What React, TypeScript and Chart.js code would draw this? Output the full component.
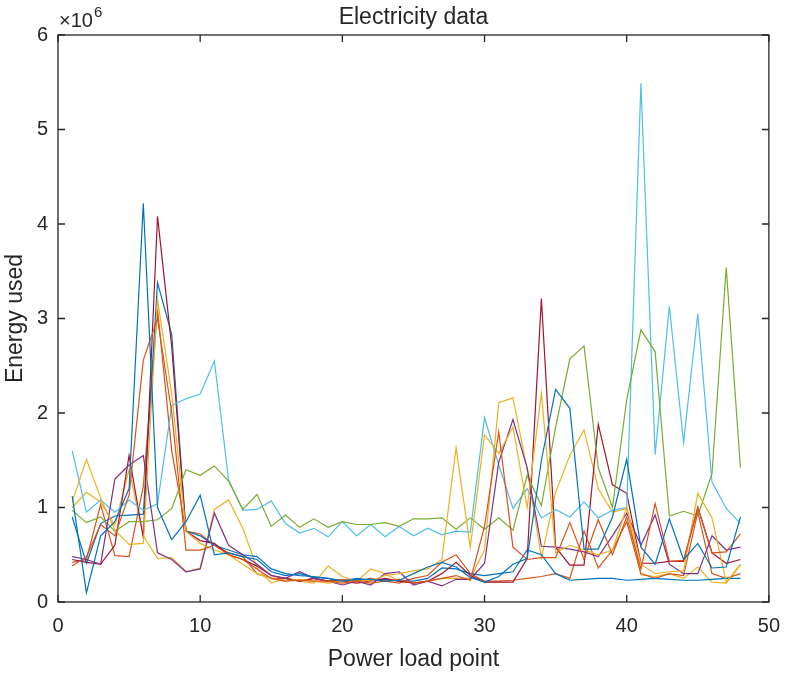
import React, { useEffect, useRef } from 'react';
import { Chart, registerables } from 'chart.js';

Chart.register(...registerables);

// Power load points (x positions)
const loadPoints = [1,2,3,4,5,6,7,8,9,10,11,12,13,14,15,16,17,18,19,20,21,22,23,24,25,26,27,28,29,30,31,32,33,34,35,36,37,38,39,40,41,42,43,44,45,46,47,48];

// Energy used, in units of 10^6
const seriesBlueA = [1.12,0.1,0.7,0.85,1.2,4.22,1.0,0.66,0.85,1.13,0.5,0.52,0.48,0.45,0.32,0.28,0.3,0.26,0.25,0.22,0.24,0.24,0.22,0.23,0.3,0.37,0.42,0.37,0.26,0.21,0.27,0.4,0.46,1.5,2.25,2.05,0.56,0.56,0.9,1.51,0.58,0.4,0.88,0.45,0.62,0.36,0.37,0.9];
const seriesOrangeA = [0.38,0.48,0.82,0.7,1.13,2.56,3.0,2.0,0.55,0.55,0.6,0.5,0.45,0.35,0.25,0.22,0.23,0.22,0.22,0.2,0.22,0.2,0.22,0.24,0.2,0.22,0.25,0.28,0.23,0.8,1.8,0.58,0.45,0.47,0.47,0.84,0.45,0.87,0.5,0.9,0.35,1.04,0.43,0.44,1.0,0.52,0.53,0.72];
const seriesYellowA = [1.06,1.51,1.1,0.76,0.61,0.62,3.2,2.2,0.75,0.62,0.55,0.5,0.4,0.3,0.25,0.22,0.24,0.22,0.2,0.22,0.24,0.22,0.28,0.3,0.33,0.35,0.45,1.63,0.58,1.77,1.57,1.85,1.0,2.21,0.52,0.6,0.55,0.5,0.55,1.0,0.4,0.3,0.32,0.33,1.15,0.89,0.21,0.4];
const seriesPurple = [0.48,0.45,0.4,1.3,1.45,1.55,0.52,0.45,0.32,0.35,0.94,0.6,0.5,0.4,0.28,0.25,0.32,0.25,0.22,0.18,0.22,0.18,0.3,0.32,0.18,0.22,0.17,0.24,0.24,0.41,1.48,1.93,1.42,0.59,0.58,0.56,0.53,0.48,0.7,0.94,0.6,0.92,0.4,0.3,0.3,0.7,0.55,0.58];
const seriesGreen = [0.97,0.84,0.9,0.75,0.85,0.85,0.87,0.99,1.4,1.34,1.44,1.28,0.98,1.14,0.8,0.92,0.79,0.88,0.79,0.85,0.82,0.82,0.84,0.8,0.88,0.88,0.89,0.77,0.89,0.77,0.89,0.76,1.34,1.02,1.85,2.57,2.71,1.42,1.0,2.14,2.88,2.65,0.91,0.96,0.91,1.36,3.54,1.42];
const seriesLightBlue = [1.6,0.95,1.08,0.95,1.08,0.97,1.04,2.08,2.15,2.2,2.55,1.29,0.97,0.98,1.07,0.83,0.73,0.78,0.69,0.85,0.7,0.82,0.69,0.8,0.7,0.78,0.71,0.75,0.74,1.95,1.45,0.99,1.2,0.89,0.98,0.9,1.06,0.89,0.97,1.0,5.49,1.56,3.13,1.69,3.05,1.27,0.99,0.83];
const seriesDarkRed = [0.45,0.42,0.4,0.6,1.55,0.68,4.08,2.7,0.75,0.65,0.62,0.5,0.45,0.38,0.28,0.25,0.22,0.25,0.22,0.22,0.2,0.22,0.25,0.22,0.2,0.22,0.3,0.42,0.28,0.21,0.21,0.21,0.46,3.21,0.58,0.39,0.39,1.88,1.24,1.15,0.41,0.41,0.43,0.43,1.0,0.52,0.41,0.45];
const seriesBlueB = [0.9,0.41,0.83,0.91,0.92,0.93,3.38,2.83,0.75,0.7,0.6,0.55,0.5,0.48,0.35,0.3,0.28,0.27,0.25,0.22,0.25,0.23,0.24,0.22,0.22,0.25,0.36,0.35,0.3,0.28,0.3,0.32,0.55,0.5,0.3,0.23,0.24,0.25,0.25,0.23,0.24,0.25,0.24,0.23,0.23,0.24,0.25,0.25];
const seriesOrangeB = [0.42,0.45,1.03,0.49,0.48,1.22,3.1,1.6,0.75,0.72,0.6,0.52,0.48,0.3,0.25,0.25,0.22,0.25,0.22,0.24,0.22,0.25,0.22,0.2,0.25,0.28,0.42,0.5,0.3,0.22,0.22,0.23,0.25,0.27,0.3,0.25,0.75,0.36,0.55,0.85,0.3,0.25,0.3,0.28,0.95,0.3,0.25,0.3];
const seriesYellowB = [1.0,1.16,1.06,0.81,1.4,0.7,0.46,0.47,0.32,0.36,0.98,1.08,0.78,0.36,0.2,0.25,0.22,0.2,0.38,0.27,0.22,0.35,0.3,0.22,0.2,0.22,0.25,0.25,0.25,0.55,2.11,2.16,1.4,0.47,1.16,1.55,1.82,1.2,0.95,0.99,0.29,0.27,0.3,0.25,0.37,0.21,0.2,0.39];

const seriesList = [seriesBlueA, seriesOrangeA, seriesYellowA, seriesPurple, seriesGreen, seriesLightBlue, seriesDarkRed, seriesBlueB, seriesOrangeB, seriesYellowB];
const seriesColors = ['#0072BD', '#D95319', '#EDB120', '#7E2F8E', '#77AC30', '#4DBEEE', '#A2142F', '#0072BD', '#D95319', '#EDB120'];

const xTicks = [0, 10, 20, 30, 40, 50];
const yTicks = [0, 1, 2, 3, 4, 5, 6];

const FONT = '"Liberation Sans", Arial, Helvetica, sans-serif';
const AXIS_COLOR = '#262626';

const framePlugin = {
  id: 'matlabFrame',
  afterDraw(chart: any) {
    const { ctx, chartArea } = chart;
    const { left, right, top, bottom } = chartArea;
    const xs = chart.scales.x;
    const ys = chart.scales.y;
    ctx.save();
    ctx.strokeStyle = AXIS_COLOR;
    ctx.lineWidth = 1.3;
    ctx.strokeRect(left, top, right - left, bottom - top);
    const tl = 7;
    ctx.beginPath();
    xTicks.forEach((v) => {
      const px = xs.getPixelForValue(v);
      ctx.moveTo(px, bottom);
      ctx.lineTo(px, bottom - tl);
      ctx.moveTo(px, top);
      ctx.lineTo(px, top + tl);
    });
    yTicks.forEach((v) => {
      const py = ys.getPixelForValue(v);
      ctx.moveTo(left, py);
      ctx.lineTo(left + tl, py);
      ctx.moveTo(right, py);
      ctx.lineTo(right - tl, py);
    });
    ctx.stroke();

    ctx.fillStyle = AXIS_COLOR;
    const cx = (left + right) / 2;
    // Title
    ctx.font = `23px ${FONT}`;
    ctx.textAlign = 'center';
    ctx.textBaseline = 'alphabetic';
    ctx.fillText('Electricity data', cx, 24);
    // X label
    ctx.font = `23px ${FONT}`;
    ctx.textBaseline = 'middle';
    ctx.fillText('Power load point', cx, 660);
    // Y label
    ctx.save();
    ctx.translate(16, (top + bottom) / 2);
    ctx.rotate(-Math.PI / 2);
    ctx.fillText('Energy used', 0, 0);
    ctx.restore();
    // Exponent
    ctx.textAlign = 'left';
    ctx.textBaseline = 'alphabetic';
    ctx.font = `20px ${FONT}`;
    ctx.fillText('\u00d710', 59, 27);
    const w = ctx.measureText('\u00d710').width;
    ctx.font = `15px ${FONT}`;
    ctx.fillText('6', 59 + w + 1, 17);
    ctx.restore();
  },
};

export default function App() {
  const canvasRef = useRef<HTMLCanvasElement | null>(null);

  useEffect(() => {
    document.body.style.margin = '0';
    const canvas = canvasRef.current;
    if (!canvas) return;
    const datasets = seriesList.map((vals, i) => ({
      data: loadPoints.map((x, j) => ({ x, y: vals[j] })),
      borderColor: seriesColors[i],
      backgroundColor: seriesColors[i],
      borderWidth: 1.2,
      pointRadius: 0,
      fill: false,
      tension: 0,
    }));
    const chart = new Chart(canvas, {
      type: 'line',
      data: { datasets },
      options: {
        responsive: false,
        animation: false,
        layout: { padding: { top: 35, right: 15, left: 0, bottom: 0 } },
        plugins: { legend: { display: false }, tooltip: { enabled: false }, title: { display: false } },
        scales: {
          x: {
            type: 'linear',
            min: 0,
            max: 50,
            afterFit: (s: any) => { s.height = 73; },
            grid: { display: false, drawTicks: false },
            border: { display: false },
            ticks: { stepSize: 10, padding: 12, color: AXIS_COLOR, font: { family: FONT, size: 20 }, maxRotation: 0 },
          },
          y: {
            type: 'linear',
            min: 0,
            max: 6,
            afterFit: (s: any) => { s.width = 58; },
            grid: { display: false, drawTicks: false },
            border: { display: false },
            ticks: { stepSize: 1, padding: 10, color: AXIS_COLOR, font: { family: FONT, size: 20 } },
          },
        },
      },
      plugins: [framePlugin],
    });
    return () => chart.destroy();
  }, []);

  return <canvas ref={canvasRef} width={792} height={675} style={{ display: 'block' }} />;
}
